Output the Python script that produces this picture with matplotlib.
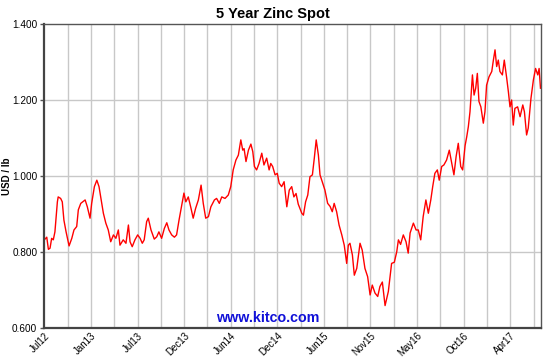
import matplotlib
matplotlib.use('Agg')
import matplotlib.pyplot as plt
import numpy as np

# days since start of chart (Jul 2012) and zinc spot price, USD / lb
days = [0, 9, 15, 21, 27, 33, 39, 48, 51, 60, 66, 72, 80, 91, 101, 109, 119, 125,
        134, 141, 150, 158, 168, 174, 184, 193, 201, 208, 217, 226, 235, 244, 254,
        263, 272, 278, 290, 300, 309, 315, 323, 333, 343, 352, 360, 367, 376, 382,
        392, 404, 413, 421, 431, 441, 450, 458, 468, 478, 486, 495, 505, 513, 520,
        529, 539, 547, 556, 566, 576, 584, 593, 603, 612, 625, 633, 643, 652, 664,
        676, 685, 694, 704, 713, 722, 729, 734, 741, 750, 759, 766, 772, 780, 789,
        799, 807, 817, 826, 832, 839, 848, 856, 863, 872, 881, 891, 900, 909, 917,
        925, 933, 946, 952, 960, 968, 976, 985, 992, 999, 1007, 1013, 1021, 1031,
        1041, 1050, 1058, 1065, 1074, 1083, 1093, 1102, 1111, 1117, 1123, 1132,
        1139, 1148, 1156, 1160, 1168, 1178, 1188, 1197, 1205, 1215, 1225, 1233,
        1242, 1252, 1264, 1276, 1286, 1295, 1301, 1309, 1319, 1329, 1337, 1344,
        1356, 1366, 1374, 1383, 1392, 1402, 1411, 1420, 1427, 1435, 1444, 1451,
        1460, 1468, 1478, 1488, 1497, 1505, 1513, 1521, 1530, 1537, 1546, 1552,
        1558, 1564, 1573, 1579, 1585, 1591, 1597, 1604, 1613, 1619, 1625, 1634,
        1644, 1650, 1656, 1662, 1668, 1674, 1683, 1690, 1699, 1705, 1711, 1717,
        1723, 1729, 1739, 1748, 1758, 1764, 1772, 1778, 1788, 1797, 1805, 1813,
        1818, 1823]
price = [0.832, 0.839, 0.807, 0.810, 0.836, 0.832, 0.853, 0.932, 0.945, 0.941,
         0.932, 0.884, 0.853, 0.816, 0.836, 0.858, 0.867, 0.911, 0.928, 0.932,
         0.937, 0.919, 0.889, 0.928, 0.972, 0.989, 0.972, 0.941, 0.902, 0.876,
         0.858, 0.827, 0.845, 0.836, 0.858, 0.818, 0.832, 0.823, 0.871, 0.827,
         0.814, 0.832, 0.845, 0.836, 0.823, 0.832, 0.880, 0.889, 0.858, 0.834,
         0.840, 0.853, 0.836, 0.862, 0.877, 0.858, 0.845, 0.839, 0.845, 0.884,
         0.924, 0.955, 0.932, 0.945, 0.915, 0.889, 0.915, 0.937, 0.976, 0.928,
         0.889, 0.893, 0.919, 0.937, 0.941, 0.928, 0.945, 0.941, 0.950, 0.972,
         1.016, 1.042, 1.055, 1.095, 1.068, 1.072, 1.038, 1.068, 1.084, 1.064,
         1.025, 1.016, 1.033, 1.060, 1.029, 1.047, 1.016, 1.033, 1.025, 1.003,
         1.007, 0.981, 0.972, 0.985, 0.919, 0.963, 0.972, 0.945, 0.954, 0.926,
         0.902, 0.897, 0.932, 0.950, 0.998, 1.003, 1.047, 1.095, 1.055, 1.003,
         0.985, 0.963, 0.928, 0.920, 0.906, 0.928, 0.906, 0.871, 0.845, 0.818,
         0.770, 0.818, 0.823, 0.792, 0.739, 0.757, 0.801, 0.823, 0.805, 0.757,
         0.735, 0.687, 0.713, 0.692, 0.683, 0.709, 0.721, 0.659, 0.696, 0.770,
         0.773, 0.801, 0.832, 0.820, 0.845, 0.827, 0.797, 0.850, 0.876, 0.858,
         0.858, 0.832, 0.893, 0.937, 0.902, 0.937, 0.972, 1.007, 1.016, 0.989,
         1.025, 1.029, 1.042, 1.068, 1.033, 1.003, 1.051, 1.086, 1.025, 1.016,
         1.080, 1.103, 1.130, 1.169, 1.266, 1.213, 1.231, 1.270, 1.196, 1.182,
         1.139, 1.169, 1.239, 1.261, 1.275, 1.305, 1.332, 1.288, 1.305, 1.275,
         1.266, 1.305, 1.257, 1.222, 1.182, 1.200, 1.134, 1.178, 1.182, 1.156,
         1.187, 1.169, 1.108, 1.126, 1.204, 1.253, 1.283, 1.266, 1.283, 1.231]

tick_labels = ['Jul12', 'Jan13', 'Jul13', 'Dec13', 'Jun14', 'Dec14',
               'Jun15', 'Nov15', 'May16', 'Oct16', 'Apr17']
y_ticks = [0.6, 0.8, 1.0, 1.2, 1.4]

grid_step = 85.6
x_end = 1825

fig = plt.figure(figsize=(5.45, 3.57), dpi=100)
ax = fig.add_axes([0.0813, 0.0812, 0.9114, 0.8516])

ax.plot(days, price, color='#ff0000', lw=1.0)

ax.set_xlim(0, x_end)
ax.set_ylim(0.6, 1.4)

# vertical grid every ~3 months, labels on every other line
grid_x = np.arange(0, x_end, grid_step)
for gx in grid_x[1:]:
    ax.axvline(gx, color='#c8c8c8', lw=1.0, zorder=0)
for gy in y_ticks[1:-1]:
    ax.axhline(gy, color='#c8c8c8', lw=1.0, zorder=0)

ax.set_xticks(grid_x[::2][:len(tick_labels)])
ax.set_xticklabels(tick_labels, rotation=45, ha='right', rotation_mode='anchor',
                   fontsize=7, family='Liberation Sans')
ax.tick_params(axis='x', length=0, pad=2)

ax.set_yticks(y_ticks)
ax.set_yticklabels(['%.3f' % v for v in y_ticks], fontsize=7.2, family='Liberation Sans')
ax.tick_params(axis='y', length=3, width=1, color='#555555', pad=2)

for side in ['top', 'right']:
    ax.spines[side].set_color('#555555')
    ax.spines[side].set_linewidth(1.0)
for side in ['left', 'bottom']:
    ax.spines[side].set_color('#444444')
    ax.spines[side].set_linewidth(1.6)

ax.set_ylabel('USD / lb', fontsize=7, fontweight='bold', family='Liberation Sans')
ax.yaxis.set_label_coords(-0.066, 0.5)

fig.text(0.5, 0.962, '5 Year Zinc Spot', ha='center', va='center', fontsize=10.5,
         fontweight='bold', family='Liberation Sans')
ax.text(0.45, 0.033, 'www.kitco.com', transform=ax.transAxes, ha='center', va='center',
        fontsize=10.3, fontweight='bold', color='#1010d8', family='Liberation Sans')

plt.savefig('out.png', dpi=100)
